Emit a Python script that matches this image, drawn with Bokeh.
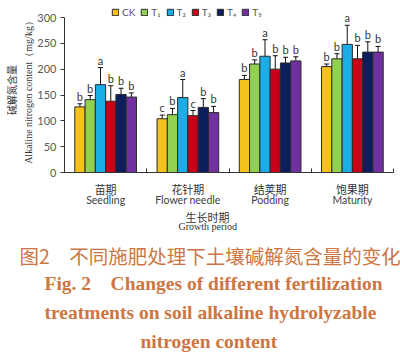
from bokeh.plotting import figure
from bokeh.models import (ColumnDataSource, Range1d, FixedTicker, Whisker, TeeHead,
                          Legend, LegendItem, LinearAxis, Title)
from bokeh.core.properties import value
from bokeh.embed import file_html
from bokeh.resources import INLINE

# ---------------- data ----------------
periods_cn = ["苗期", "花针期", "结荚期", "饱果期"]
periods_en = ["Seedling", "Flower needle", "Podding", "Maturity"]
treatments = ["CK", "T₁", "T₂", "T₃", "T₄", "T₅"]

CK_mean = [127, 104, 180, 205]
CK_err = [6, 7, 8, 5]
CK_sig = ["b", "c", "b", "b"]

T1_mean = [141, 112, 210, 220]
T1_err = [8, 12, 8, 10]
T1_sig = ["b", "b", "b", "b"]

T2_mean = [170, 145, 225, 248]
T2_err = [33, 35, 32, 37]
T2_sig = ["a", "a", "a", "a"]

T3_mean = [138, 110, 200, 220]
T3_err = [30, 10, 26, 26]
T3_sig = ["b", "c", "b", "b"]

T4_mean = [151, 126, 212, 233]
T4_err = [12, 17, 11, 20]
T4_sig = ["b", "b", "b", "b"]

T5_mean = [146, 116, 216, 233]
T5_err = [8, 12, 8, 11]
T5_sig = ["b", "b", "b", "b"]

y_ticks = [0, 50, 100, 150, 200, 250, 300]

y_label_cn = "碱解氮含量"
y_label_en = "Alkaline nitrogen content（mg/kg）"
x_label_cn = "生长时期"
x_label_en = "Growth period"
caption_cn = "图2\u3000不同施肥处理下土壤碱解氮含量的变化"
caption_en = ["Fig. 2\u2003Changes of different fertilization",
              "treatments on soil alkaline hydrolyzable",
              "nitrogen content"]

series = [
    (CK_mean, CK_err, CK_sig),
    (T1_mean, T1_err, T1_sig),
    (T2_mean, T2_err, T2_sig),
    (T3_mean, T3_err, T3_sig),
    (T4_mean, T4_err, T4_sig),
    (T5_mean, T5_err, T5_sig),
]
colors = ["#F5C21B", "#92D050", "#1BADE6", "#C8001A", "#0C1F5C", "#7030A0"]

BAR_W = 0.125
AX = "#333333"
CAP = "#CD7642"
Y_TOP = 300 * 165 / 155   # frame reaches a little above the 300 line for the legend

p = figure(width=400, height=359, output_backend="svg", toolbar_location=None,
           x_range=Range1d(0, 4), y_range=Range1d(0, Y_TOP),
           min_border_left=58, min_border_right=7, min_border_top=7,
           min_border_bottom=187)
p.outline_line_color = None
p.xgrid.visible = False
p.ygrid.visible = False

items = []
for j, ((mean, err, sig), name, col) in enumerate(zip(series, treatments, colors)):
    xs = [i + 0.5 + (j - 2.5) * BAR_W for i in range(len(mean))]
    src = ColumnDataSource(dict(
        x=xs, top=mean,
        upper=[m + e for m, e in zip(mean, err)],
        lower=[m - e for m, e in zip(mean, err)],
        sig=sig))
    r = p.vbar(x="x", top="top", bottom=0, width=BAR_W, source=src,
               fill_color=col, line_color="#2b2b2b", line_width=1)
    items.append(LegendItem(label=name, renderers=[r]))
    w = Whisker(source=src, base="x", upper="upper", lower="lower",
                line_color="#111111", line_width=1,
                upper_head=TeeHead(size=5, line_color="#111111", line_width=1),
                lower_head=TeeHead(size=5, line_color="#111111", line_width=1))
    p.add_layout(w)
    p.text(x="x", y="upper", text="sig", source=src, text_align="center",
           text_baseline="bottom", y_offset=-1, text_font_size="11px",
           text_color="#333333", text_font=value("Lato"))

# ---- y axes ----
yax = p.yaxis[0]
yax.ticker = FixedTicker(ticks=y_ticks)
yax.bounds = (0, 300)
yax.major_tick_out = 4
yax.major_tick_in = 0
yax.minor_tick_out = 0
yax.minor_tick_in = 0
yax.axis_line_color = AX
yax.major_tick_line_color = AX
yax.major_label_text_font = "Lato"
yax.major_label_text_font_size = "11px"
yax.major_label_text_color = "#595959"
yax.major_label_standoff = 4
yax.axis_label = y_label_en
yax.axis_label_text_font = "Liberation Serif"
yax.axis_label_text_font_size = "10px"
yax.axis_label_text_font_style = "normal"
yax.axis_label_text_color = "#333333"
yax.axis_label_standoff = 0

yax_cn = LinearAxis(ticker=FixedTicker(ticks=[]), axis_line_color=None,
                    major_tick_out=0, major_tick_in=0, minor_tick_out=0, minor_tick_in=0,
                    major_label_standoff=0, axis_label=y_label_cn, axis_label_standoff=2,
                    axis_label_text_font="Noto Sans CJK SC", axis_label_text_font_size="10px",
                    axis_label_text_font_style="normal", axis_label_text_color="#333333")
p.add_layout(yax_cn, "left")

# ---- x axes ----
period_ticks = [i + 0.5 for i in range(len(periods_cn))]
xax = p.xaxis[0]
xax.ticker = FixedTicker(ticks=period_ticks, minor_ticks=[i + 1 for i in range(len(periods_cn))])
xax.major_label_overrides = {t: c for t, c in zip(period_ticks, periods_cn)}
xax.major_tick_in = 0
xax.major_tick_out = 0
xax.minor_tick_in = 4
xax.minor_tick_out = 0
xax.axis_line_color = AX
xax.minor_tick_line_color = AX
xax.major_label_text_font = "Noto Sans CJK SC"
xax.major_label_text_font_size = "11px"
xax.major_label_text_color = "#333333"
xax.major_label_standoff = 8

xax_en = LinearAxis(ticker=FixedTicker(ticks=period_ticks),
                    major_label_overrides={t: e for t, e in zip(period_ticks, periods_en)},
                    axis_line_color=None, major_tick_out=0, major_tick_in=0,
                    minor_tick_out=0, minor_tick_in=0, major_label_standoff=-6,
                    major_label_text_font="Lato", major_label_text_font_size="10.5px",
                    major_label_text_color="#404040")
p.add_layout(xax_en, "below")

# ---- x-axis title and figure caption (stacked below the axes) ----
def below_title(text, font, size, standoff, offset, color="#333333", style="normal"):
    return Title(text=text, align="left", offset=offset, vertical_align="middle",
                 standoff=standoff, text_font=font, text_font_size=size,
                 text_font_style=style, text_color=color)

p.add_layout(below_title(x_label_cn, "Noto Sans CJK SC", "11px", -2, 121), "below")
p.add_layout(below_title(x_label_en, "Liberation Serif", "10px", -10, 114), "below")
p.add_layout(below_title(caption_cn, "Noto Sans CJK SC", "19.5px", 24, -45, CAP), "below")
p.add_layout(below_title(caption_en[0], "Liberation Serif", "19.5px", -22, -20, CAP, "bold"), "below")
p.add_layout(below_title(caption_en[1], "Liberation Serif", "19.5px", 34, -20, CAP, "bold"), "below")
p.add_layout(below_title(caption_en[2], "Liberation Serif", "19.5px", -22, 76, CAP, "bold"), "below")

# ---- legend (inside the frame, above the 300 line) ----
legend = Legend(items=items, orientation="horizontal", location=(47, 154),
                glyph_width=8, glyph_height=8, label_height=10, label_width=8,
                label_standoff=3, spacing=5, padding=0, margin=0,
                border_line_color=None, background_fill_alpha=0,
                label_text_font="Lato", label_text_font_size="10px",
                label_text_color="#555555")
p.add_layout(legend)

open("out.html", "w").write(file_html(p, INLINE))
